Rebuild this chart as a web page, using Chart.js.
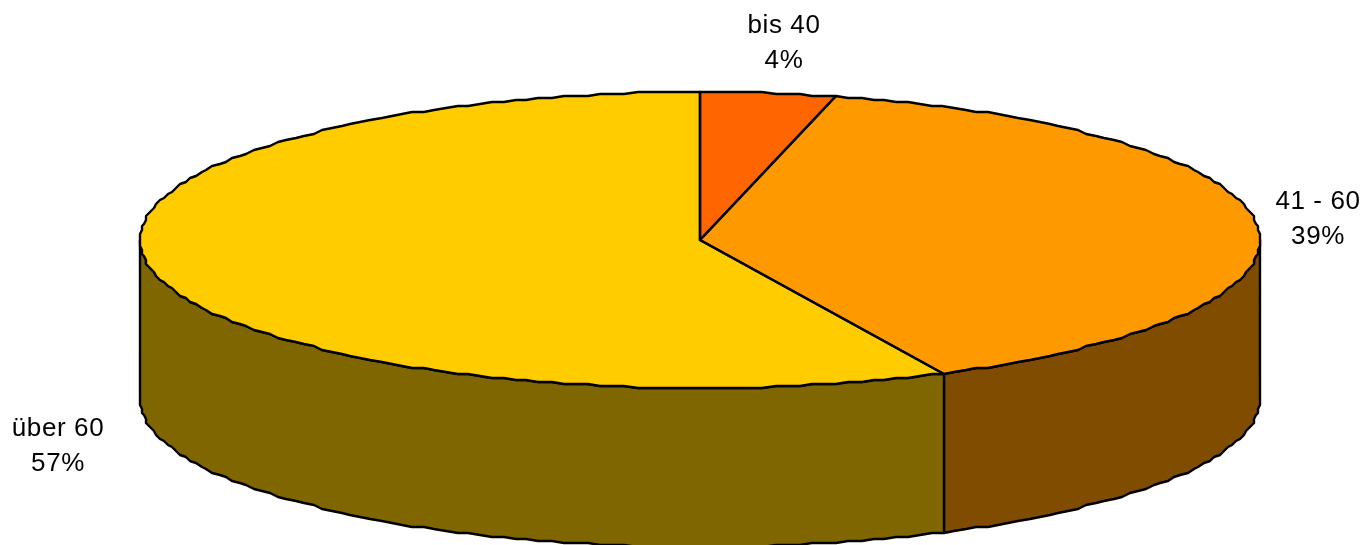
<!DOCTYPE html>
<html>
<head>
<meta charset="utf-8">
<style>
html, body { margin: 0; padding: 0; background: #fff; overflow: hidden; }
canvas { display: block; }
</style>
<script src="https://cdn.jsdelivr.net/npm/chart.js@4"></script>
</head>
<body>
<canvas id="pie" width="1363" height="545"></canvas>
<script>
const categories = ["bis 40", "41 - 60", "über 60"];
const values = [3.9, 38.9, 57.2];
const percentLabels = ["4%", "39%", "57%"];
const topColors = ["#ff6600", "#ff9900", "#ffcc00"];
const sideColors = ["#803300", "#804c00", "#806600"];

// where the tilted pie sits on the page
const cx = 700, cy = 240, rx = 560, ry = 148, depth = 159;

// label anchors, two lines each
const labelPos = [[784, 26], [1318, 202], [58, 429]];

// the original edge is jagged, it looks scaled up from a coarse bitmap
const grid = 2;
const stepAngle = Math.PI / 140;

function snap(v) {
	return Math.round(v / grid) * grid;
}

// rim points between two angles, on fixed steps so neighbours share them
function rim(a0, a1, dy) {
	let pts = [];
	let add = function(a) {
		pts.push([cx + snap(rx * Math.cos(a)), cy + snap(ry * Math.sin(a)) + dy]);
	};
	add(a0);
	for (let k = Math.ceil(a0 / stepAngle + 0.001); k * stepAngle < a1; k++) {
		add(k * stepAngle);
	}
	add(a1);
	return pts;
}

function tracePoints(ctx, pts) {
	pts.forEach(function(p) {
		ctx.lineTo(p[0], p[1]);
	});
}

function tilt(ctx, arc) {
	let s = arc.outerRadius;
	ctx.translate(cx, cy);
	ctx.scale(rx / s, ry / s);
	ctx.translate(-arc.x, -arc.y);
}

const pie3d = {
	id: "pie3d",
	beforeDatasetsDraw(chart) {
		let ctx = chart.ctx;
		let arcs = chart.getDatasetMeta(0).data;
		// side wall, only the front half of the ellipse shows
		arcs.forEach(function(arc, i) {
			let a0 = Math.max(arc.startAngle, 0);
			let a1 = Math.min(arc.endAngle, Math.PI);
			if (a1 <= a0) return;
			ctx.save();
			ctx.beginPath();
			tracePoints(ctx, rim(a0, a1, 0));
			tracePoints(ctx, rim(a0, a1, depth).reverse());
			ctx.closePath();
			ctx.fillStyle = sideColors[i];
			ctx.fill();
			ctx.lineWidth = 2.4;
			ctx.strokeStyle = "#000";
			ctx.lineJoin = "round";
			ctx.stroke();
			ctx.restore();
		});
		ctx.save();
		tilt(ctx, arcs[0]);
	},
	afterDatasetsDraw(chart) {
		let ctx = chart.ctx;
		ctx.restore();
		let arcs = chart.getDatasetMeta(0).data;
		// outline after the transform so the pen stays round
		arcs.forEach(function(arc) {
			ctx.save();
			ctx.beginPath();
			ctx.moveTo(cx, cy);
			tracePoints(ctx, rim(arc.startAngle, arc.endAngle, 0));
			ctx.closePath();
			ctx.lineWidth = 2.4;
			ctx.lineJoin = "round";
			ctx.strokeStyle = "#000";
			ctx.stroke();
			ctx.restore();
		});
		ctx.save();
		ctx.font = '26px "Liberation Sans", Arial, sans-serif';
		ctx.letterSpacing = "0.6px";
		ctx.fillStyle = "#000";
		ctx.textAlign = "center";
		ctx.textBaseline = "middle";
		categories.forEach(function(c, i) {
			ctx.fillText(c, labelPos[i][0], labelPos[i][1]);
			ctx.fillText(percentLabels[i], labelPos[i][0], labelPos[i][1] + 35);
		});
		ctx.restore();
	}
};

new Chart(document.getElementById("pie").getContext("2d"), {
	type: "pie",
	data: {
		labels: categories,
		datasets: [{ data: values, backgroundColor: topColors, borderWidth: 0, clip: false }]
	},
	options: {
		responsive: false,
		animation: false,
		plugins: { legend: { display: false }, tooltip: { enabled: false } }
	},
	plugins: [pie3d]
});
</script>
</body>
</html>
